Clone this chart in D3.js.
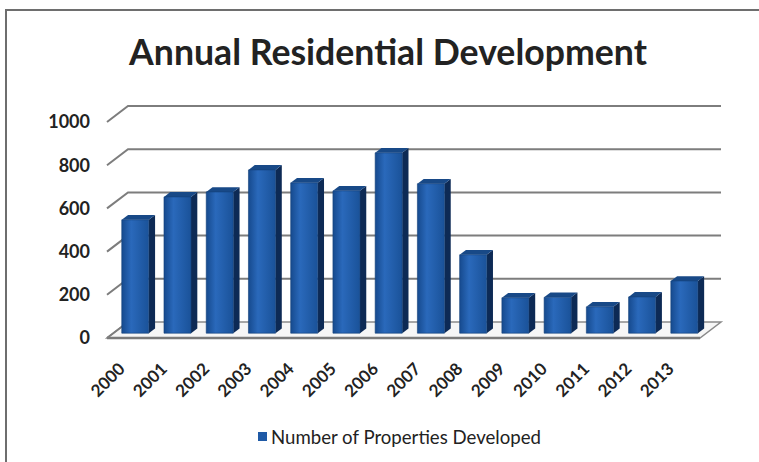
<!DOCTYPE html>
<html>
<head>
<meta charset="utf-8">
<script src="https://cdn.jsdelivr.net/npm/d3@7"></script>
<style>
  html, body { margin: 0; padding: 0; background: #fff; }
  svg { display: block; }
  text { font-family: Lato, "Open Sans", sans-serif; fill: #1a1a1a; }
</style>
</head>
<body>
<svg id="chart" width="759" height="462"></svg>
<script>
// Annual counts of properties developed
const years = ["2000","2001","2002","2003","2004","2005","2006","2007","2008","2009","2010","2011","2012","2013"];
const propertiesDeveloped = [525, 631, 654, 756, 696, 659, 835, 692, 363, 164, 166, 122, 168, 242];
const yTicks = [0, 200, 400, 600, 800, 1000];
const seriesName = "Number of Properties Developed";
const chartTitle = "Annual Residential Development";

const W = 759, H = 462;
const svg = d3.select("#chart");

// Oblique 3D projection: depth z in [0,1] shifts points right and up
const depthDX = 21, depthDY = -16;
const floorLeft = 107, floorRight = 700;

const x = d3.scaleBand().domain(years).range([floorLeft, floorRight])
  .paddingInner(0.36).paddingOuter(0.2);
const y = d3.scaleLinear().domain([0, 1000]).range([338, 122]);

const P = (xf, v, z) => [xf + z * depthDX, y(v) + z * depthDY];
const poly = pts => "M" + pts.map(p => p.join(",")).join("L") + "Z";

// Outer frame
svg.append("path")
  .attr("d", `M6,${H} L6,10 L${W},10`)
  .attr("fill", "none").attr("stroke", "#6e6e6e").attr("stroke-width", 2);

// Title, fitted to its width
const title = svg.append("text")
  .attr("x", 388).attr("y", 65).attr("text-anchor", "middle")
  .attr("font-weight", 700).attr("font-size", 30)
  .style("fill", "#222")
  .text(chartTitle);
{
  const w = title.node().getComputedTextLength();
  title.attr("font-size", 30 * 518 / w);
}

// Floor
svg.append("path")
  .attr("d", poly([P(floorLeft, 0, 0), P(floorRight, 0, 0), P(floorRight, 0, 1), P(floorLeft, 0, 1)]))
  .attr("fill", "#f6f6f6").attr("stroke", "#8a8a8a").attr("stroke-width", 1.5);
svg.append("line")
  .attr("x1", floorLeft).attr("x2", floorRight).attr("y1", y(0)).attr("y2", y(0))
  .attr("stroke", "#7a7a7a").attr("stroke-width", 2.5);

// Gridlines: left wall diagonal + back wall horizontal
const grid = svg.append("g");
yTicks.forEach(v => {
  const a = P(floorLeft, v, 0), b = P(floorLeft, v, 1), c = P(floorRight, v, 1);
  grid.append("path")
    .attr("d", `M${a}L${b}` + (v === 0 ? "" : `L${c}`))
    .attr("fill", "none").attr("stroke", "#7d7d7d").attr("stroke-width", 2);
});

// Y tick labels
svg.append("g").selectAll("text").data(yTicks).join("text")
  .attr("x", 90).attr("y", d => y(d)).attr("dy", "0.36em")
  .attr("text-anchor", "end").attr("font-weight", 700).attr("font-size", 18)
  .style("fill", "#222")
  .text(d => d);

// Bar shading
const defs = svg.append("defs");
const gFront = defs.append("linearGradient").attr("id", "barFront")
  .attr("x1", "0%").attr("x2", "100%").attr("y1", "0%").attr("y2", "0%");
gFront.append("stop").attr("offset", "0%").attr("stop-color", "#164a8e");
gFront.append("stop").attr("offset", "35%").attr("stop-color", "#2a69bb");
gFront.append("stop").attr("offset", "100%").attr("stop-color", "#1a5299");

const zFront = 0.3, zBack = 0.6;
const bars = svg.append("g").selectAll("g").data(years.map((yr, i) => ({ yr, v: propertiesDeveloped[i] })))
  .join("g");

bars.each(function(d) {
  const g = d3.select(this);
  const x0 = x(d.yr), x1 = x0 + x.bandwidth();
  // right side face
  g.append("path")
    .attr("d", poly([P(x1, 0, zFront), P(x1, 0, zBack), P(x1, d.v, zBack), P(x1, d.v, zFront)]))
    .attr("fill", "#0d2a55");
  // top face
  g.append("path")
    .attr("d", poly([P(x0, d.v, zFront), P(x1, d.v, zFront), P(x1, d.v, zBack), P(x0, d.v, zBack)]))
    .attr("fill", "#184987");
  // front face
  g.append("path")
    .attr("d", poly([P(x0, 0, zFront), P(x1, 0, zFront), P(x1, d.v, zFront), P(x0, d.v, zFront)]))
    .attr("fill", "url(#barFront)").attr("stroke", "#123f78").attr("stroke-width", 0.6);
});

// Year labels, rotated
svg.append("g").selectAll("text").data(years).join("text")
  .attr("transform", d => `translate(${x(d) + x.bandwidth() / 2 - 3},370) rotate(-45)`)
  .attr("text-anchor", "end")
  .attr("font-weight", 700).attr("font-size", 17)
  .style("fill", "#222")
  .text(d => d);

// Legend
svg.append("rect").attr("x", 258).attr("y", 432).attr("width", 9).attr("height", 9)
  .attr("fill", "#1f5aa6");
const leg = svg.append("text").attr("x", 271).attr("y", 437).attr("dy", "0.35em")
  .attr("font-size", 16).style("fill", "#222").text(seriesName);
{
  const w = leg.node().getComputedTextLength();
  leg.attr("font-size", 16 * 270 / w);
}
</script>
</body>
</html>
